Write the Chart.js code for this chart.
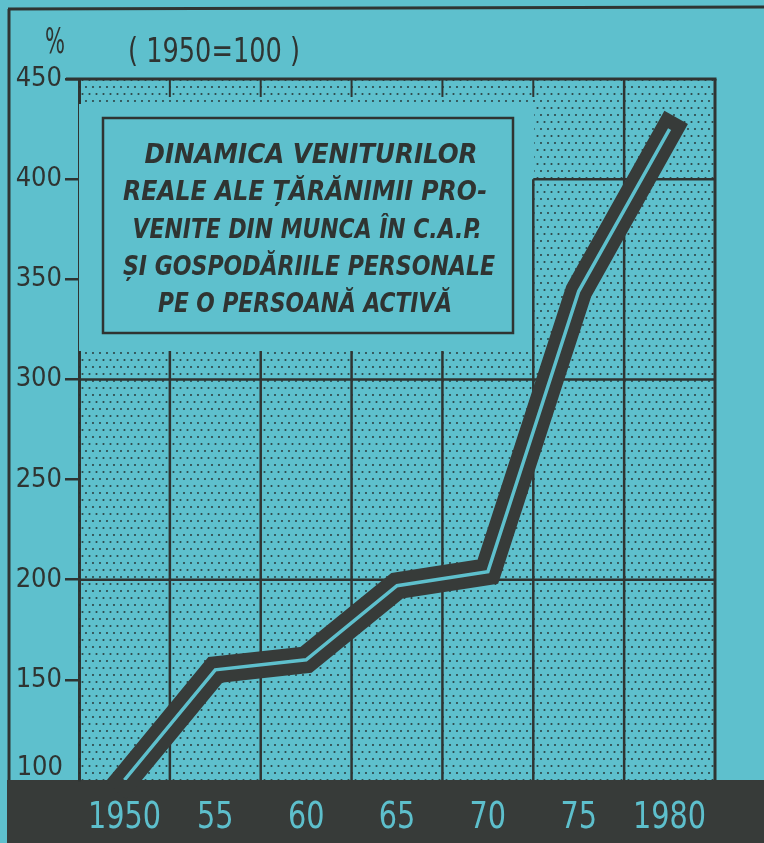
<!DOCTYPE html>
<html lang="ro">
<head>
<meta charset="utf-8">
<title>Dinamica veniturilor reale ale țărănimii</title>
<script src="https://cdn.jsdelivr.net/npm/chart.js@4.4.1/dist/chart.umd.min.js"></script>
<style>
  html, body { margin: 0; padding: 0; background: #5ec0cd; }
  canvas { display: block; }
</style>
</head>
<body>
<canvas id="chart" width="764" height="843"></canvas>
<script>
// anii de pe axa X
const years = ['1950', '55', '60', '65', '70', '75', '1980'];
// venituri reale pe o persoana activa, indice 1950 = 100
const income = [100, 155, 160, 197, 204, 344, 425];
// axa Y (%)
const yMin = 100, yMax = 450, yStep = 50;
const gridValues = [200, 300, 400];

const unitLabel = '%';
const baseLabel = '( 1950=100 )';
const titleLines = [
  'DINAMICA VENITURILOR',
  'REALE ALE ȚĂRĂNIMII PRO-',
  'VENITE DIN MUNCA ÎN C.A.P.',
  'ȘI GOSPODĂRIILE PERSONALE',
  'PE O PERSOANĂ ACTIVĂ'
];

const CYAN = '#5ec0cd';
const INK = '#2f3432';
const BAND = '#373b39';
const NARROW = '"DejaVu Sans Condensed", "DejaVu Sans", sans-serif';

// mic model de puncte pentru fondul hasurat
function makeDots() {
  const c = document.createElement('canvas');
  c.width = 7; c.height = 14;
  const g = c.getContext('2d');
  g.fillStyle = 'rgba(35,45,45,0.85)';
  g.beginPath(); g.arc(2, 3, 1.05, 0, Math.PI * 2); g.fill();
  g.beginPath(); g.arc(5.5, 10, 1.05, 0, Math.PI * 2); g.fill();
  return c;
}
const dots = makeDots();

// text intins/strans pe orizontala pana la latimea data
function fitText(ctx, txt, cx, base, w, font) {
  ctx.save();
  ctx.font = font;
  const m = ctx.measureText(txt).width;
  ctx.translate(cx, base);
  ctx.scale(w / m, 1);
  ctx.textAlign = 'center';
  ctx.textBaseline = 'alphabetic';
  ctx.fillText(txt, 0, 0);
  ctx.restore();
}

function line(ctx, x1, y1, x2, y2, w) {
  ctx.lineWidth = w;
  ctx.beginPath();
  ctx.moveTo(x1, y1);
  ctx.lineTo(x2, y2);
  ctx.stroke();
}

const decor = {
  id: 'decor',
  beforeDraw(chart) {
    const ctx = chart.ctx, a = chart.chartArea;
    ctx.save();
    ctx.fillStyle = CYAN;
    ctx.fillRect(0, 0, chart.width, chart.height);
    // banda neagra de jos
    ctx.fillStyle = BAND;
    ctx.fillRect(7, a.bottom, chart.width - 7, chart.height - a.bottom);
    // rama exterioara
    ctx.strokeStyle = INK;
    line(ctx, 9, 9, 9, a.bottom, 3);
    line(ctx, 8, 9, chart.width, 7, 3);
    ctx.restore();
  },
  beforeDatasetsDraw(chart) {
    const ctx = chart.ctx, a = chart.chartArea;
    const xs = chart.scales.x, ys = chart.scales.y;
    const bounds = [];
    for (let i = 1; i < years.length; i++) {
      bounds.push((xs.getPixelForTick(i - 1) + xs.getPixelForTick(i)) / 2);
    }
    const plainTop = a.top + 25, plainBottom = a.top + 272;
    const split = bounds[4];
    ctx.save();
    ctx.fillStyle = ctx.createPattern(dots, 'repeat');
    ctx.fillRect(a.left, a.top, a.right - a.left, a.bottom - a.top);
    // zona fara puncte din jurul titlului
    ctx.fillStyle = CYAN;
    ctx.fillRect(a.left, plainTop, split - a.left + 1, plainBottom - plainTop);

    ctx.strokeStyle = INK;
    // linii orizontale
    gridValues.forEach(v => {
      const y = ys.getPixelForValue(v);
      const x0 = (y > plainTop && y < plainBottom) ? split : a.left;
      line(ctx, x0, y, a.right, y, 2.5);
    });
    // linii verticale
    const y400 = ys.getPixelForValue(400);
    bounds.forEach((x, i) => {
      if (i === 5) {
        line(ctx, x, a.top, x, a.bottom, 2.5);
      } else {
        line(ctx, x, a.top, x, a.top + 18, 2);
        line(ctx, x, i === 4 ? y400 : plainBottom, x, a.bottom, 2.5);
      }
    });
    // rama graficului
    line(ctx, a.left - 13, a.top, a.right + 1.5, a.top, 3);
    line(ctx, a.right, a.top, a.right, a.bottom, 3);
    ctx.restore();
  },
  afterDatasetsDraw(chart) {
    const ctx = chart.ctx, a = chart.chartArea, xs = chart.scales.x;
    ctx.save();
    ctx.fillStyle = INK;
    ctx.strokeStyle = INK;
    // caseta cu titlul
    ctx.lineWidth = 2.5;
    ctx.strokeRect(103, 118, 410, 215);
    const widths = [333, 364, 349, 372, 294];
    const centers = [311, 305, 307, 309, 305];
    titleLines.forEach((t, i) => {
      fitText(ctx, t, centers[i], 163 + i * 37.3, widths[i],
        'italic bold 27px "DejaVu Sans Condensed", "DejaVu Sans", sans-serif');
    });
    // unitatea si baza
    fitText(ctx, unitLabel, 55, 53, 20, '35px ' + NARROW);
    fitText(ctx, baseLabel, 214, 62, 172, '33px ' + NARROW);
    // eticheta 100 ridicata deasupra benzii
    ctx.font = '27px ' + NARROW;
    ctx.textAlign = 'right';
    ctx.textBaseline = 'alphabetic';
    ctx.fillText(String(yMin), a.left - 16, a.bottom - 5);
    // anii, in banda de jos, la pozitiile scalei X
    ctx.fillStyle = '#5dbfcc';
    years.forEach((t, i) => {
      ctx.save();
      ctx.font = '38px ' + NARROW;
      ctx.translate(xs.getPixelForTick(i), 828);
      ctx.scale(0.84, 1);
      ctx.textAlign = 'center';
      ctx.fillText(t, 0, 0);
      ctx.restore();
    });
    ctx.restore();
  }
};

new Chart(document.getElementById('chart'), {
  type: 'line',
  data: {
    labels: years,
    datasets: [
      {
        data: income,
        borderColor: CYAN,
        borderWidth: 3.5,
        pointRadius: 0,
        borderJoinStyle: 'miter',
        clip: 0,
        order: 0
      },
      {
        data: income,
        borderColor: BAND,
        borderWidth: 27,
        pointRadius: 0,
        borderJoinStyle: 'miter',
        borderCapStyle: 'square',
        clip: { left: 0, top: 0, right: 0, bottom: 40 },
        order: 1
      }
    ]
  },
  options: {
    responsive: false,
    animation: false,
    devicePixelRatio: 1,
    layout: { padding: { left: 0, right: 49, top: 79, bottom: 0 } },
    plugins: { legend: { display: false }, tooltip: { enabled: false } },
    scales: {
      x: {
        type: 'category',
        offset: true,
        grid: { display: false },
        border: { display: false },
        ticks: { display: false },
        afterFit(s) { s.height = 63; }
      },
      y: {
        min: yMin,
        max: yMax,
        grid: {
          drawOnChartArea: false,
          drawTicks: true,
          tickLength: 14,
          lineWidth: 2.5,
          color: ctx => (ctx.tick && ctx.tick.value === yMin) ? 'rgba(0,0,0,0)' : INK
        },
        border: { display: true, color: INK, width: 3 },
        ticks: {
          stepSize: yStep,
          color: INK,
          font: { family: NARROW, size: 27 },
          padding: 3,
          callback: v => v === yMin ? '' : v
        },
        afterFit(s) { s.width = 79; }
      }
    }
  },
  plugins: [decor]
});
</script>
</body>
</html>
